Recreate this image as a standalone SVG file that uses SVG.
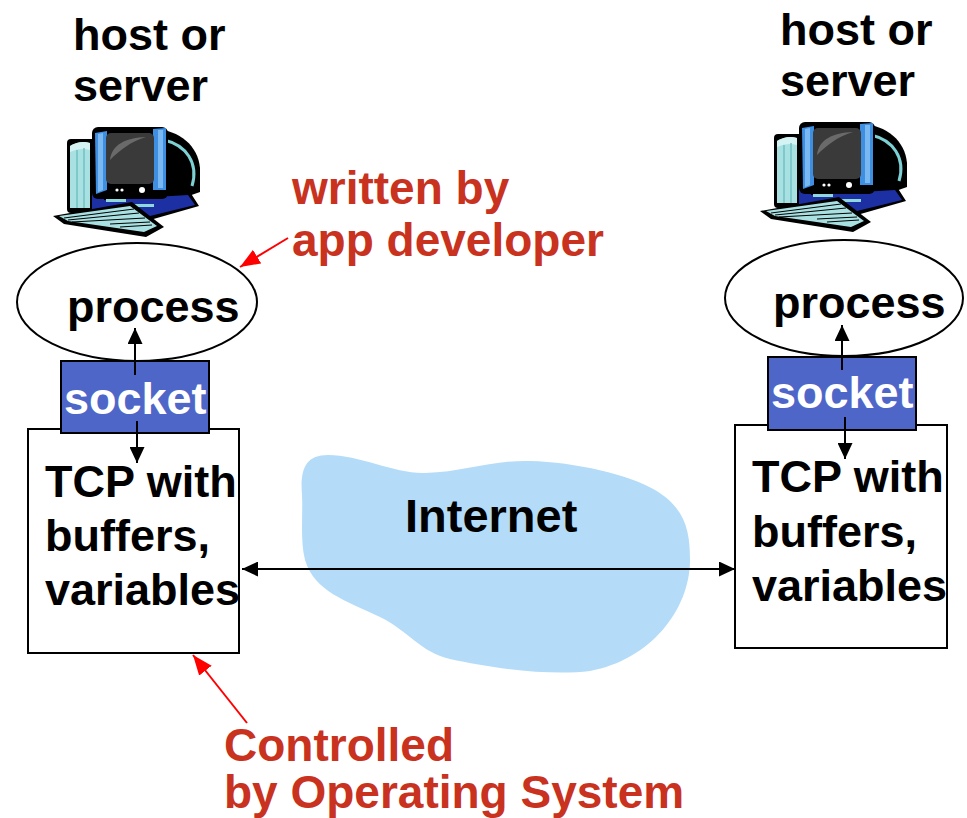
<svg xmlns="http://www.w3.org/2000/svg" xmlns:xlink="http://www.w3.org/1999/xlink" width="967" height="818" viewBox="0 0 967 818">
  <style>
    .lbl { font-family: "Liberation Sans", Arial, sans-serif; font-weight: bold; font-size: 45px; fill: #000; }
    .red { font-family: "Liberation Sans", Arial, sans-serif; font-weight: bold; font-size: 46px; fill: #c8321e; }
    .sock-t { font-family: "Liberation Sans", Arial, sans-serif; font-weight: bold; font-size: 45px; fill: #fff; }
    .proc { fill: #fff; stroke: #000; stroke-width: 2; }
    .box { fill: #fff; stroke: #000; stroke-width: 2; }
    .sock { fill: #4f66c9; stroke: #000; stroke-width: 2; }
    .arr { stroke: #000; stroke-width: 2; fill: none; }
    .rarr { stroke: #ff0000; stroke-width: 2; fill: none; }
  </style>
  <defs>
    <marker id="ah" markerUnits="userSpaceOnUse" markerWidth="16" markerHeight="15" refX="16" refY="7.5" orient="auto-start-reverse">
      <path d="M0,0 L16,7.5 L0,15 Z" fill="#000"/>
    </marker>
    <marker id="rah" markerUnits="userSpaceOnUse" markerWidth="20" markerHeight="16" refX="20" refY="8" orient="auto">
      <path d="M0,0 L20,8 L0,16 Z" fill="#ff0000"/>
    </marker>
    <!-- desktop computer clip-art -->
    <g id="pc">
      <!-- tower -->
      <rect x="17" y="19" width="30" height="74" rx="4" fill="#000"/>
      <path d="M20,26 Q30,20 40,23 L40,88 L20,88 Z" fill="#a9e1e3"/>
      <path d="M20,26 Q30,20 40,23 L40,30 Q30,27 20,32 Z" fill="#d6f3f3"/>
      <line x1="27" y1="30" x2="27" y2="88" stroke="#6fc0c4" stroke-width="1.5"/>
      <line x1="34" y1="28" x2="34" y2="88" stroke="#6fc0c4" stroke-width="1.5"/>
      <!-- monitor back housing -->
      <path d="M104,9 C130,10 148,26 150,48 L150,72 L116,84 Z" fill="#000"/>
      <path d="M114,20 C136,25 149,43 142,66" stroke="#7dd0d4" stroke-width="3" fill="none"/>
      <!-- base -->
      <path d="M40,66 L56,66 L56,78 L140,72 L149,86 L100,100 L62,96 L40,92 Z" fill="#000"/>
      <path d="M42,68 L54,68 L54,80 L138,75 L145,85 L100,96 L62,93 L42,89 Z" fill="#1c2fa3"/>
      <rect x="56" y="79" width="20" height="3" fill="#8fd8dc"/>
      <rect x="78" y="84" width="26" height="3" fill="#8fd8dc"/>
      <!-- monitor front -->
      <rect x="42" y="7" width="76" height="72" rx="6" fill="#000"/>
      <path d="M45,13 L57,11 L57,70 L46,74 Z" fill="#3e8fe2"/>
      <path d="M48,14 L53,13 L53,70 L48,72 Z" fill="#7ab8f2"/>
      <path d="M103,9 L116,8 L116,70 L103,70 Z" fill="#3e8fe2"/>
      <path d="M108,10 L113,10 L113,68 L108,68 Z" fill="#7ab8f2"/>
      <rect x="56" y="13" width="48" height="51" rx="5" fill="#3a3a3a"/>
      <path d="M60,40 C62,24 76,18 96,17 C80,22 70,30 60,40 Z" fill="#6a6a6a"/>
      <circle cx="67" cy="70" r="1.6" fill="#fff"/>
      <circle cx="72" cy="70" r="1.6" fill="#fff"/>
      <circle cx="92" cy="70" r="3" fill="#fff"/>
      <!-- keyboard -->
      <path d="M3,96 L82,82 L114,107 L96,117 L14,104 Z" fill="#000"/>
      <path d="M9,96 L80,86 L107,106 L94,112 L18,101 Z" fill="#a9e1e3"/>
      <path d="M14,98 L84,89 M18,100 L89,93 M22,102 L95,98 M60,104 L100,102 M70,107 L102,105" stroke="#000" stroke-width="1" fill="none"/>
    </g>
  </defs>

  <!-- network cloud -->
  <g id="internet">
    <path d="M302,495 C300,470 305,455 328,455 C360,455 395,474 425,473 C465,472 490,460 530,461 C575,462 630,475 655,490 C685,508 690,530 690,560 C690,610 650,660 590,671 C550,676 490,668 450,659 C420,652 410,632 380,617 C345,600 315,592 305,560 C300,540 303,515 302,495 Z" fill="#b4dcf8"/>
    <text class="lbl" x="405" y="532" style="font-size:47px">Internet</text>
  </g>

  <!-- left host -->
  <g id="host-left">
    <text class="lbl" x="73" y="50">host or</text>
    <text class="lbl" x="73" y="101">server</text>
    <use xlink:href="#pc" x="50" y="120"/>
  </g>
  <g id="process-left">
    <ellipse class="proc" cx="137" cy="302" rx="120" ry="59"/>
    <text class="lbl" x="67" y="322">process</text>
  </g>
  <g id="tcp-left">
    <rect class="box" x="28" y="429" width="211" height="224"/>
    <text class="lbl" x="45" y="497">TCP with</text>
    <text class="lbl" x="45" y="551">buffers,</text>
    <text class="lbl" x="45" y="605">variables</text>
  </g>
  <g id="socket-left">
    <rect class="sock" x="61" y="361" width="148" height="72"/>
    <text class="sock-t" x="64" y="414">socket</text>
  </g>

  <!-- right host -->
  <g id="host-right">
    <text class="lbl" x="780" y="45">host or</text>
    <text class="lbl" x="780" y="96">server</text>
    <use xlink:href="#pc" x="757" y="115"/>
  </g>
  <g id="process-right">
    <ellipse class="proc" cx="844" cy="298" rx="119" ry="58"/>
    <text class="lbl" x="773" y="318">process</text>
  </g>
  <g id="tcp-right">
    <rect class="box" x="735" y="425" width="212" height="223"/>
    <text class="lbl" x="752" y="492">TCP with</text>
    <text class="lbl" x="752" y="547">buffers,</text>
    <text class="lbl" x="752" y="601">variables</text>
  </g>
  <g id="socket-right">
    <rect class="sock" x="768" y="357" width="148" height="73"/>
    <text class="sock-t" x="771" y="408">socket</text>
  </g>

  <!-- annotations -->
  <g id="note-app">
    <text class="red" x="292" y="204">written by</text>
    <text class="red" x="292" y="256">app developer</text>
  </g>
  <g id="note-os">
    <text class="red" x="224" y="761">Controlled</text>
    <text class="red" x="224" y="808">by Operating System</text>
  </g>

  <!-- connectors -->
  <g id="connectors">
    <line class="arr" x1="135" y1="375" x2="135" y2="328" marker-end="url(#ah)"/>
    <line class="arr" x1="137" y1="421" x2="137" y2="463" marker-end="url(#ah)"/>
    <line class="arr" x1="842" y1="370" x2="842" y2="325" marker-end="url(#ah)"/>
    <line class="arr" x1="845" y1="417" x2="845" y2="459" marker-end="url(#ah)"/>
    <line class="arr" x1="242" y1="569" x2="735" y2="569" marker-start="url(#ah)" marker-end="url(#ah)"/>
    <line class="rarr" x1="288" y1="238" x2="240" y2="267" marker-end="url(#rah)"/>
    <line class="rarr" x1="247" y1="723" x2="193" y2="655" marker-end="url(#rah)"/>
  </g>
</svg>
